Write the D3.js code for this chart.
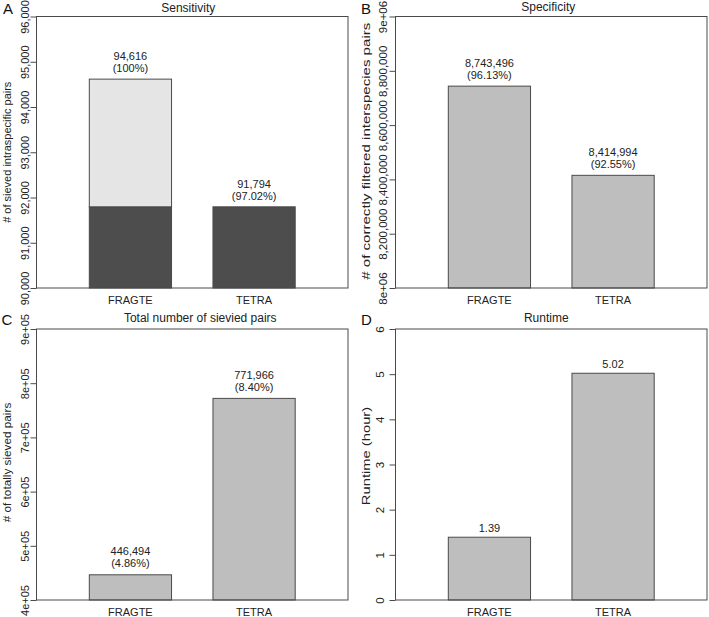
<!DOCTYPE html>
<html>
<head>
<meta charset="utf-8">
<script src="https://cdn.jsdelivr.net/npm/d3@7"></script>
<style>
  html, body { margin: 0; padding: 0; background: #fff; }
  svg { display: block; font-family: "Liberation Sans", Arial, Helvetica, sans-serif; }
</style>
</head>
<body>
<svg id="chart" width="709" height="617"></svg>
<script>
// ---- data ----
const categories = ["FRAGTE", "TETRA"];

const sensitivityShared = [91794, 91794];
const sensitivityTotal = [94616, 91794];
const sensitivityLabels = ["94,616", "91,794"];
const sensitivityPct = ["(100%)", "(97.02%)"];
const sensitivityTicks = [90000, 91000, 92000, 93000, 94000, 95000, 96000];
const sensitivityTickLabels = ["90,000", "91,000", "92,000", "93,000", "94,000", "95,000", "96,000"];

const specificityValues = [8743496, 8414994];
const specificityLabels = ["8,743,496", "8,414,994"];
const specificityPct = ["(96.13%)", "(92.55%)"];
const specificityTicks = [8000000, 8200000, 8400000, 8600000, 8800000, 9000000];
const specificityTickLabels = ["8e+06", "8,200,000", "8,400,000", "8,600,000", "8,800,000", "9e+06"];

const totalValues = [446494, 771966];
const totalLabels = ["446,494", "771,966"];
const totalPct = ["(4.86%)", "(8.40%)"];
const totalTicks = [400000, 500000, 600000, 700000, 800000, 900000];
const totalTickLabels = ["4e+05", "5e+05", "6e+05", "7e+05", "8e+05", "9e+05"];

const runtimeValues = [1.39, 5.02];
const runtimeLabels = ["1.39", "5.02"];
const runtimeTicks = [0, 1, 2, 3, 4, 5, 6];
const runtimeTickLabels = ["0", "1", "2", "3", "4", "5", "6"];

const panelLetters = ["A", "B", "C", "D"];
const panelTitles = ["Sensitivity", "Specificity", "Total number of sievied pairs", "Runtime"];
const yTitles = ["# of sieved intraspecific pairs", "# of correctly filtered interspecies pairs",
                 "# of totally sieved pairs", "Runtime (hour)"];

// ---- style ----
const frameColor = "#4a4a4a";
const barStroke = "#4a4a4a";
const barFill = "#bebebe";
const darkFill = "#4d4d4d";
const lightFill = "#e5e5e5";
const textColor = "#222";

const svg = d3.select("#chart");

const panels = [
  { box: [36.5, 348, 16.5, 288], letter: [3, 13.5], titleDx: -4, titleDy: 5,
    tickOff: 8, tickFont: 11, yTitleStretch: 1, yTitleDy: 0, labelGap: 7,
    ticks: sensitivityTicks, tickLabels: sensitivityTickLabels,
    stacked: true, shared: sensitivityShared, values: sensitivityTotal,
    labels: sensitivityLabels, pct: sensitivityPct },
  { box: [395.5, 707, 16.5, 288], letter: [361, 13.5], titleDx: -3, titleDy: 5.5,
    tickOff: 9, tickFont: 11.5, yTitleStretch: 1.37, yTitleDy: -1, labelGap: 7,
    ticks: specificityTicks, tickLabels: specificityTickLabels,
    values: specificityValues, labels: specificityLabels, pct: specificityPct },
  { box: [36.5, 348, 329, 600], letter: [1.5, 324.5], titleDx: 8, titleDy: 7.5,
    tickOff: 8, tickFont: 11, yTitleStretch: 1.07, yTitleDy: -2, labelGap: 7.5,
    ticks: totalTicks, tickLabels: totalTickLabels,
    values: totalValues, labels: totalLabels, pct: totalPct },
  { box: [395.5, 707, 329, 600], letter: [361, 324.5], titleDx: -5, titleDy: 7.5,
    tickOff: 12, tickFont: 11.5, yTitleStretch: 1.34, yTitleDy: -8.5, labelGap: 5,
    ticks: runtimeTicks, tickLabels: runtimeTickLabels,
    values: runtimeValues, labels: runtimeLabels, pct: null }
];

panels.forEach((p, i) => {
  const [L, R, T, B] = p.box;
  const g = svg.append("g");

  const x = d3.scaleBand().domain(categories).range([L, R])
    .paddingInner(0.335).paddingOuter(0.427);
  const y = d3.scaleLinear()
    .domain([p.ticks[0], p.ticks[p.ticks.length - 1]])
    .range([B, T]);
  const base = p.ticks[0];

  // bars
  if (p.stacked) {
    g.selectAll("rect.dark").data(categories).join("rect")
      .attr("x", d => x(d)).attr("width", x.bandwidth())
      .attr("y", (d, j) => y(p.shared[j]))
      .attr("height", (d, j) => y(base) - y(p.shared[j]))
      .attr("fill", darkFill).attr("stroke", barStroke).attr("stroke-width", 1);
    g.selectAll("rect.light").data(categories.filter((d, j) => p.values[j] > p.shared[j])).join("rect")
      .attr("x", d => x(d)).attr("width", x.bandwidth())
      .attr("y", d => y(p.values[categories.indexOf(d)]))
      .attr("height", d => y(p.shared[categories.indexOf(d)]) - y(p.values[categories.indexOf(d)]))
      .attr("fill", lightFill).attr("stroke", barStroke).attr("stroke-width", 1);
  } else {
    g.selectAll("rect.bar").data(categories).join("rect")
      .attr("x", d => x(d)).attr("width", x.bandwidth())
      .attr("y", (d, j) => y(p.values[j]))
      .attr("height", (d, j) => y(base) - y(p.values[j]))
      .attr("fill", barFill).attr("stroke", barStroke).attr("stroke-width", 1);
  }

  // value labels
  categories.forEach((c, j) => {
    const cx = x(c) + x.bandwidth() / 2;
    const top = y(p.values[j]);
    if (p.pct) {
      g.append("text").attr("x", cx).attr("y", top - p.labelGap - 12)
        .attr("text-anchor", "middle").attr("font-size", 11).attr("fill", textColor)
        .text(p.labels[j]);
      g.append("text").attr("x", cx).attr("y", top - p.labelGap)
        .attr("text-anchor", "middle").attr("font-size", 11).attr("fill", textColor)
        .text(p.pct[j]);
    } else {
      g.append("text").attr("x", cx).attr("y", top - p.labelGap)
        .attr("text-anchor", "middle").attr("font-size", 11).attr("fill", textColor)
        .text(p.labels[j]);
    }
    // category label
    g.append("text").attr("x", cx).attr("y", B + 15.5)
      .attr("text-anchor", "middle").attr("font-size", 11).attr("fill", textColor)
      .text(c);
  });

  // y axis
  const ax = g.append("g").attr("transform", `translate(${L},0)`)
    .call(d3.axisLeft(y).tickValues(p.ticks)
      .tickFormat((d, k) => p.tickLabels[k])
      .tickSizeInner(6).tickSizeOuter(0));
  ax.select(".domain").remove();
  ax.selectAll(".tick line").attr("stroke", frameColor);
  ax.selectAll(".tick text")
    .attr("x", null).attr("dy", null).attr("y", null)
    .attr("transform", `translate(${-p.tickOff},0) rotate(-90)`)
    .attr("text-anchor", "middle")
    .attr("font-size", p.tickFont).attr("fill", textColor)
    .attr("font-family", "Liberation Sans, Arial, sans-serif");

  // frame
  g.append("rect").attr("x", L).attr("y", T).attr("width", R - L).attr("height", B - T)
    .attr("fill", "none").attr("stroke", frameColor).attr("stroke-width", 1);

  // title
  g.append("text").attr("x", (L + R) / 2 + p.titleDx).attr("y", T - p.titleDy)
    .attr("text-anchor", "middle").attr("font-size", 12).attr("fill", textColor)
    .text(panelTitles[i]);

  // y title
  g.append("text")
    .attr("transform", `translate(${L - 26},${(T + B) / 2 + p.yTitleDy}) rotate(-90) scale(${p.yTitleStretch},1)`)
    .attr("text-anchor", "middle").attr("font-size", 11).attr("fill", textColor)
    .text(yTitles[i]);

  // panel letter
  svg.append("text").attr("x", p.letter[0]).attr("y", p.letter[1])
    .attr("font-size", 15).attr("fill", "#111")
    .text(panelLetters[i]);
});
</script>
</body>
</html>
